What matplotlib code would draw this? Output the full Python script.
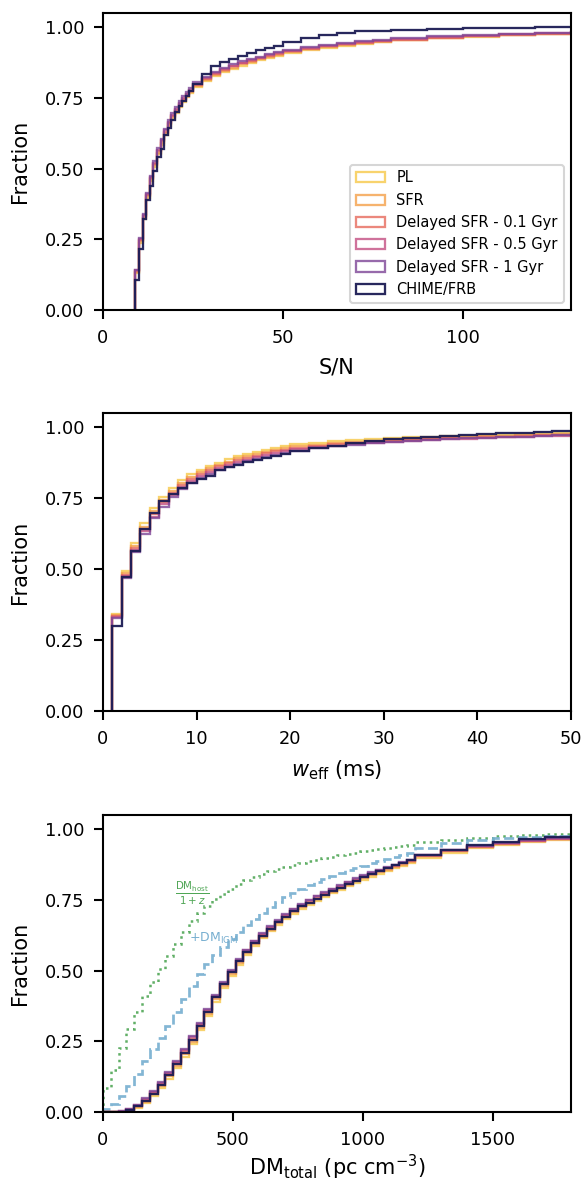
import numpy as np
import matplotlib
matplotlib.use("Agg")
import matplotlib.pyplot as plt

# ===============================
# Data (cumulative fraction per bin)
# ===============================
labels = ["PL", "SFR", "Delayed SFR - 0.1 Gyr", "Delayed SFR - 0.5 Gyr",
          "Delayed SFR - 1 Gyr", "CHIME/FRB"]
colors = ["#f7c948", "#f4a04a", "#e66a5c", "#c44f82", "#7d4596", "#1c1c54"]

# --- S/N ---
snr_edges = ([9, 10, 11, 12, 13, 14, 15, 16, 17, 18, 19, 20, 21, 22, 23, 24, 25,
              27.5, 30, 32.5, 35, 37.5, 40, 42.5, 45, 47.5, 50,
              55, 60, 65, 70, 75, 80, 90, 100, 110, 120, 130, 150])
snr_pl = [0.13, 0.238, 0.322, 0.396, 0.456, 0.506, 0.55, 0.585, 0.62, 0.65, 0.676, 0.698, 0.719, 0.737, 0.753, 0.767,
          0.788, 0.808, 0.826, 0.841, 0.853, 0.864, 0.874, 0.883, 0.891, 0.898,
          0.908, 0.918, 0.927, 0.934, 0.941, 0.946, 0.953, 0.96, 0.966, 0.971, 0.975, 0.979]
snr_sfr = [0.134, 0.243, 0.327, 0.402, 0.462, 0.512, 0.556, 0.591, 0.626, 0.656, 0.682, 0.704, 0.724, 0.742, 0.758, 0.772,
           0.792, 0.813, 0.831, 0.845, 0.857, 0.868, 0.878, 0.887, 0.894, 0.902,
           0.911, 0.921, 0.929, 0.937, 0.943, 0.948, 0.955, 0.962, 0.967, 0.972, 0.976, 0.98]
snr_d01 = [0.137, 0.247, 0.331, 0.406, 0.466, 0.516, 0.561, 0.596, 0.631, 0.661, 0.686, 0.708, 0.728, 0.746, 0.762, 0.776,
           0.796, 0.817, 0.835, 0.849, 0.861, 0.872, 0.881, 0.89, 0.897, 0.905,
           0.914, 0.924, 0.932, 0.939, 0.945, 0.95, 0.956, 0.963, 0.968, 0.973, 0.977, 0.981]
snr_d05 = [0.14, 0.25, 0.335, 0.41, 0.47, 0.52, 0.565, 0.60, 0.635, 0.665, 0.69, 0.712, 0.732, 0.75, 0.765, 0.779,
           0.80, 0.82, 0.838, 0.852, 0.864, 0.875, 0.884, 0.892, 0.90, 0.907,
           0.916, 0.926, 0.934, 0.941, 0.947, 0.952, 0.958, 0.965, 0.97, 0.975, 0.979, 0.982]
snr_d1 = [0.142, 0.254, 0.34, 0.415, 0.475, 0.526, 0.571, 0.606, 0.641, 0.671, 0.696, 0.718, 0.738, 0.755, 0.77, 0.784,
          0.805, 0.825, 0.843, 0.857, 0.869, 0.879, 0.888, 0.896, 0.904, 0.911,
          0.92, 0.93, 0.937, 0.944, 0.95, 0.955, 0.961, 0.967, 0.972, 0.977, 0.981, 0.984]
snr_chime = [0.107, 0.217, 0.32, 0.39, 0.44, 0.49, 0.54, 0.57, 0.62, 0.645, 0.67, 0.70, 0.72, 0.738, 0.755, 0.775,
             0.80, 0.835, 0.862, 0.877, 0.888, 0.897, 0.908, 0.918, 0.927, 0.935,
             0.948, 0.962, 0.972, 0.98, 0.985, 0.988, 0.99, 0.994, 0.998, 0.998, 0.999, 1.0]

# --- w_eff ---
w_edges = [1, 2, 3, 4, 5, 6, 7, 8, 9, 10, 11, 12, 13, 14, 15, 16, 17, 18, 19, 20,
           22, 24, 26, 28, 30, 32, 34, 36, 38, 40, 42, 44, 46, 48, 50, 60]
w_pl = [0.343, 0.493, 0.593, 0.662, 0.715, 0.754, 0.786, 0.814, 0.834, 0.849,
        0.863, 0.875, 0.887, 0.897, 0.905, 0.913, 0.92, 0.926, 0.932,
        0.94, 0.945, 0.95, 0.955, 0.958, 0.961, 0.964, 0.966, 0.968, 0.969, 0.971, 0.973, 0.975, 0.976, 0.978, 0.98]
w_sfr = [0.339, 0.485, 0.583, 0.65, 0.703, 0.743, 0.776, 0.804, 0.825, 0.841,
         0.855, 0.868, 0.879, 0.89, 0.898, 0.906, 0.913, 0.92, 0.926,
         0.933, 0.939, 0.944, 0.949, 0.953, 0.956, 0.959, 0.962, 0.964, 0.966, 0.968, 0.97, 0.972, 0.974, 0.976, 0.978]
w_d01 = [0.336, 0.48, 0.576, 0.643, 0.695, 0.736, 0.769, 0.797, 0.818, 0.835,
         0.849, 0.862, 0.873, 0.884, 0.892, 0.9, 0.908, 0.915, 0.921,
         0.928, 0.934, 0.94, 0.945, 0.949, 0.952, 0.955, 0.958, 0.961, 0.963, 0.965, 0.967, 0.969, 0.971, 0.973, 0.975]
w_d05 = [0.332, 0.475, 0.568, 0.634, 0.685, 0.728, 0.762, 0.789, 0.81, 0.827,
         0.842, 0.855, 0.866, 0.877, 0.886, 0.894, 0.902, 0.909, 0.915,
         0.922, 0.929, 0.935, 0.941, 0.945, 0.949, 0.952, 0.955, 0.958, 0.96, 0.962, 0.964, 0.966, 0.968, 0.97, 0.972]
w_d1 = [0.329, 0.47, 0.56, 0.625, 0.679, 0.72, 0.755, 0.782, 0.803, 0.82,
        0.835, 0.848, 0.86, 0.87, 0.88, 0.888, 0.896, 0.903, 0.909,
        0.917, 0.925, 0.932, 0.938, 0.943, 0.947, 0.951, 0.955, 0.958, 0.961, 0.963, 0.965, 0.967, 0.969, 0.971, 0.973]
w_chime = [0.299, 0.471, 0.564, 0.641, 0.697, 0.739, 0.766, 0.786, 0.802, 0.817,
           0.828, 0.848, 0.858, 0.868, 0.877, 0.885, 0.893, 0.90, 0.907,
           0.915, 0.925, 0.935, 0.945, 0.952, 0.958, 0.963, 0.967, 0.97, 0.973, 0.976, 0.978, 0.98, 0.983, 0.986, 0.988]

# --- DM ---
dm_edges = list(range(0, 1201, 30)) + [1300, 1400, 1500, 1600, 1700, 1800, 1900]
dm_pl = [0, 0, 0.0, 0.004, 0.014, 0.032, 0.055, 0.084, 0.118, 0.155,
         0.196, 0.241, 0.29, 0.34, 0.39, 0.437, 0.481, 0.521, 0.556, 0.587,
         0.614, 0.639, 0.661, 0.682, 0.701, 0.718, 0.733, 0.747, 0.761, 0.774,
         0.786, 0.798, 0.81, 0.821, 0.832, 0.842, 0.852, 0.861, 0.87, 0.879,
         0.899, 0.917, 0.932, 0.944, 0.954, 0.962, 0.967]
dm_sfr = [0, 0, 0.001, 0.006, 0.018, 0.037, 0.062, 0.091, 0.126, 0.163,
          0.204, 0.249, 0.298, 0.348, 0.398, 0.445, 0.488, 0.528, 0.562, 0.593,
          0.62, 0.645, 0.667, 0.688, 0.707, 0.724, 0.739, 0.753, 0.766, 0.779,
          0.791, 0.803, 0.815, 0.826, 0.837, 0.847, 0.857, 0.866, 0.875, 0.884,
          0.904, 0.921, 0.936, 0.947, 0.957, 0.964, 0.969]
dm_d01 = [0, 0, 0.001, 0.008, 0.022, 0.043, 0.069, 0.099, 0.135, 0.172,
          0.214, 0.259, 0.308, 0.357, 0.406, 0.452, 0.495, 0.534, 0.568, 0.599,
          0.626, 0.65, 0.672, 0.693, 0.712, 0.729, 0.744, 0.758, 0.771, 0.784,
          0.796, 0.808, 0.82, 0.831, 0.842, 0.852, 0.861, 0.87, 0.879, 0.887,
          0.906, 0.923, 0.937, 0.948, 0.958, 0.965, 0.97]
dm_d05 = [0, 0, 0.002, 0.009, 0.024, 0.046, 0.072, 0.103, 0.139, 0.177,
          0.219, 0.264, 0.312, 0.361, 0.41, 0.456, 0.499, 0.538, 0.572, 0.603,
          0.63, 0.654, 0.676, 0.697, 0.716, 0.733, 0.748, 0.762, 0.775, 0.788,
          0.8, 0.812, 0.824, 0.835, 0.845, 0.855, 0.864, 0.873, 0.882, 0.89,
          0.909, 0.925, 0.939, 0.95, 0.959, 0.966, 0.971]
dm_d1 = [0, 0, 0.002, 0.01, 0.026, 0.048, 0.075, 0.106, 0.142, 0.18,
         0.223, 0.268, 0.316, 0.365, 0.414, 0.46, 0.502, 0.541, 0.574, 0.605,
         0.632, 0.656, 0.678, 0.699, 0.718, 0.735, 0.75, 0.764, 0.777, 0.79,
         0.802, 0.814, 0.826, 0.837, 0.847, 0.857, 0.866, 0.875, 0.884, 0.892,
         0.91, 0.926, 0.94, 0.951, 0.96, 0.967, 0.972]
dm_chime = [0, 0, 0.001, 0.007, 0.02, 0.04, 0.065, 0.095, 0.13, 0.168,
            0.21, 0.255, 0.305, 0.355, 0.405, 0.452, 0.495, 0.535, 0.567, 0.597,
            0.622, 0.647, 0.67, 0.691, 0.71, 0.727, 0.74, 0.752, 0.766, 0.78,
            0.793, 0.806, 0.818, 0.83, 0.841, 0.852, 0.862, 0.872, 0.882, 0.891,
            0.91, 0.928, 0.943, 0.955, 0.964, 0.971, 0.975]
dm_host = [0.085, 0.15, 0.225, 0.295, 0.355, 0.41, 0.46, 0.505, 0.55, 0.595,
           0.635, 0.675, 0.705, 0.73, 0.752, 0.772, 0.79, 0.806, 0.82, 0.832,
           0.843, 0.852, 0.86, 0.867, 0.874, 0.88, 0.886, 0.892, 0.897, 0.902,
           0.907, 0.912, 0.916, 0.921, 0.925, 0.929, 0.933, 0.937, 0.941, 0.945,
           0.955, 0.963, 0.97, 0.975, 0.979, 0.982, 0.984]
dm_host_igm = [0.01, 0.03, 0.058, 0.092, 0.135, 0.182, 0.222, 0.262, 0.305, 0.352,
               0.4, 0.445, 0.487, 0.522, 0.555, 0.585, 0.61, 0.635, 0.66, 0.683,
               0.705, 0.725, 0.743, 0.759, 0.774, 0.788, 0.801, 0.813, 0.824, 0.835,
               0.845, 0.854, 0.863, 0.871, 0.879, 0.887, 0.895, 0.902, 0.909, 0.915,
               0.935, 0.951, 0.961, 0.968, 0.973, 0.977, 0.98]

fraction_ticks = [0, 0.25, 0.5, 0.75, 1.0]


def cdf_step(ax, edges, vals, **kw):
    edges = np.asarray(edges, dtype=float)
    ax.hist(edges[:-1], bins=edges, weights=vals, histtype="step", **kw)


def draw_models(ax, edges, series):
    for vals, lab, col in zip(series, labels, colors):
        if lab == "CHIME/FRB":
            cdf_step(ax, edges, vals, color=col, lw=1.1, alpha=0.95, label=lab)
        else:
            cdf_step(ax, edges, vals, color=col, lw=1.1, alpha=0.8, label=lab)


def style(ax, xlabel, xpad=5):
    ax.set_ylim(0, 1.05)
    ax.set_yticks(fraction_ticks)
    ax.set_ylabel("Fraction", fontsize=10, labelpad=7)
    ax.set_xlabel(xlabel, fontsize=10, labelpad=xpad)
    ax.tick_params(labelsize=8.5, length=4.5, width=1.0, pad=4.5)
    for sp in ax.spines.values():
        sp.set_linewidth(1.0)


fig = plt.figure(figsize=(584 / 150, 1185 / 150), dpi=150)
W, H = 584.0, 1185.0

# ===============================
# S/N panel
# ===============================
ax1 = fig.add_axes([103 / W, (H - 310) / H, 468 / W, 297 / H])
draw_models(ax1, snr_edges, [snr_pl, snr_sfr, snr_d01, snr_d05, snr_d1, snr_chime])
ax1.set_xlim(0, 130)
ax1.set_xticks([0, 50, 100])
style(ax1, "S/N")
ax1.legend(loc="lower right", fontsize=7)

# ===============================
# w_eff panel
# ===============================
ax2 = fig.add_axes([103 / W, (H - 711) / H, 468 / W, 298 / H])
draw_models(ax2, w_edges, [w_pl, w_sfr, w_d01, w_d05, w_d1, w_chime])
ax2.set_xlim(0, 50)
ax2.set_xticks([0, 10, 20, 30, 40, 50])
style(ax2, r"$w_{\rm eff}$ (ms)")

# ===============================
# DM panel
# ===============================
ax3 = fig.add_axes([103 / W, (H - 1112) / H, 468 / W, 297 / H])
cdf_step(ax3, dm_edges, dm_host, color="#4fa655", lw=1.2, ls=":", alpha=0.9)
cdf_step(ax3, dm_edges, dm_host_igm, color="#76aed0", lw=1.3, ls="--", alpha=0.9)
draw_models(ax3, dm_edges, [dm_pl, dm_sfr, dm_d01, dm_d05, dm_d1, dm_chime])
ax3.set_xlim(0, 1800)
ax3.set_xticks([0, 500, 1000, 1500])
style(ax3, r"DM$_{\rm total}$ (pc cm$^{-3}$)", xpad=2)
ax3.text(342, 0.773, r"$\frac{\mathrm{DM_{host}}}{1+z}$", color="#4fa655",
         fontsize=7, ha="center", va="center")
ax3.text(331, 0.613, r"$+\mathrm{DM_{IGM}}$", color="#76aed0",
         fontsize=6, ha="left", va="center")

fig.savefig("out.png", dpi=150)
